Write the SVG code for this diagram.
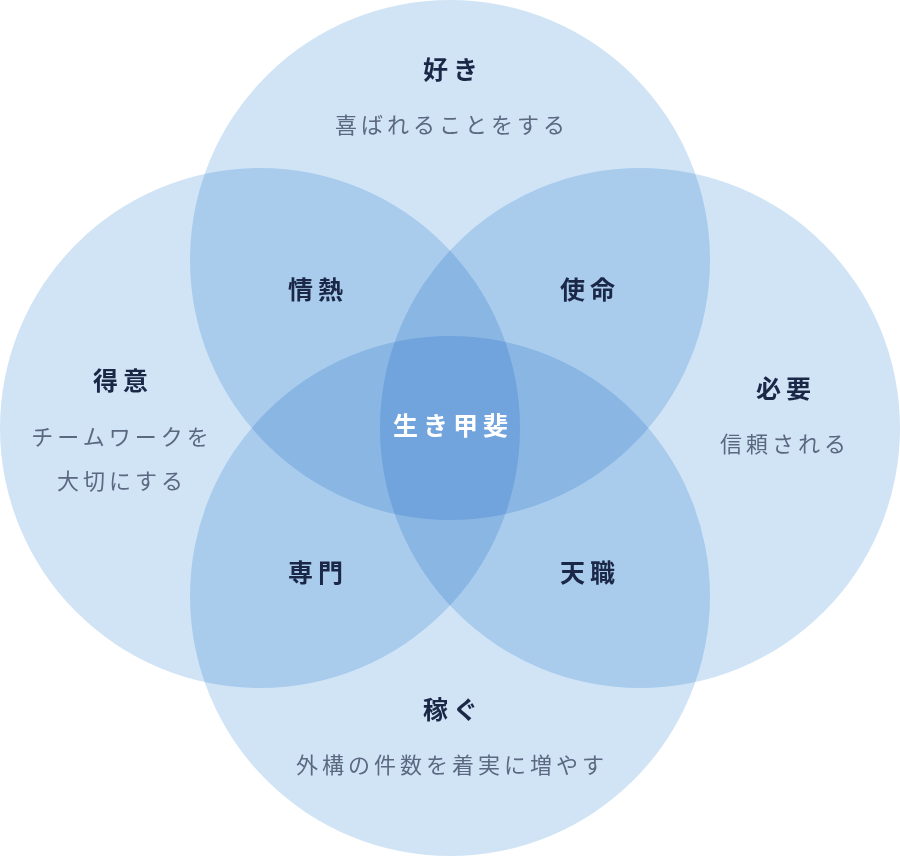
<svg xmlns="http://www.w3.org/2000/svg" width="900" height="856" viewBox="0 0 900 856">
<style>
.c{fill:#d0e4f6;mix-blend-mode:multiply}
.t{font-family:"Noto Sans CJK JP","Noto Sans",sans-serif;font-size:25px;font-weight:bold;fill:#1b2747;text-anchor:middle;letter-spacing:5px}
.s{font-family:"Noto Sans CJK JP","Noto Sans",sans-serif;font-size:22px;fill:#5c6880;text-anchor:middle;letter-spacing:4px}
.w{fill:#ffffff}
</style>
<rect width="900" height="856" fill="#ffffff"/>
<g id="circles">
<circle id="top" class="c" cx="450" cy="260" r="260"/>
<circle id="left" class="c" cx="260" cy="428" r="260"/>
<circle id="right" class="c" cx="640" cy="428" r="260"/>
<circle id="bottom" class="c" cx="450" cy="596" r="260"/>
</g>
<g id="connectors"></g>
<g id="n-suki"><text class="t" x="453" y="79">好き</text><text class="s" x="452" y="133">喜ばれることをする</text></g>
<g id="n-jonetsu"><text class="t" x="318" y="299">情熱</text></g>
<g id="n-shimei"><text class="t" x="590" y="299">使命</text></g>
<g id="n-tokui"><text class="t" x="123" y="390">得意</text><text class="s" x="122" y="445">チームワークを</text><text class="s" x="122" y="489">大切にする</text></g>
<g id="n-ikigai"><text class="t w" x="453" y="435">生き甲斐</text></g>
<g id="n-hitsuyo"><text class="t" x="786" y="398">必要</text><text class="s" x="785" y="452">信頼される</text></g>
<g id="n-senmon"><text class="t" x="318" y="582">専門</text></g>
<g id="n-tenshoku"><text class="t" x="590" y="582">天職</text></g>
<g id="n-kasegu"><text class="t" x="453" y="719">稼ぐ</text><text class="s" x="452" y="773">外構の件数を着実に増やす</text></g>
</svg>
